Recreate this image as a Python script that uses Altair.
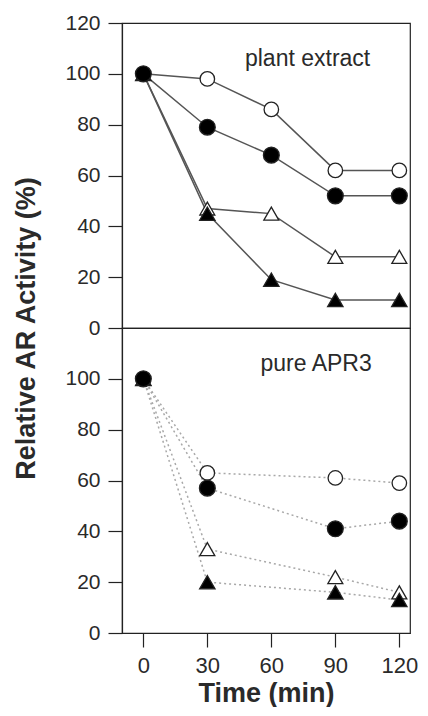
import altair as alt
import pandas as pd

# ---- data -------------------------------------------------------------
times_plant = [0, 30, 60, 90, 120]
plant_open_circle = [100, 98, 86, 62, 62]
plant_filled_circle = [100, 79, 68, 52, 52]
plant_open_triangle = [100, 47, 45, 28, 28]
plant_filled_triangle = [100, 45, 19, 11, 11]

times_apr = [0, 30, 90, 120]
apr_open_circle = [100, 63, 61, 59]
apr_filled_circle = [100, 57, 41, 44]
apr_open_triangle = [100, 33, 22, 16]
apr_filled_triangle = [100, 20, 16, 13]

series_order = ["open circle", "open triangle", "filled triangle", "filled circle"]
x_ticks = [0, 30, 60, 90, 120]
y_ticks_top = [0, 20, 40, 60, 80, 100, 120]
y_ticks_bottom = [0, 20, 40, 60, 80, 100]

panel_labels = ["plant extract", "pure APR3"]
label_x = [77, 81]
label_y = [106, 106]


def make_df(times, series):
    rows = []
    for name, vals in series:
        for t, v in zip(times, vals):
            rows.append({"time": t, "value": v, "series": name})
    return pd.DataFrame(rows)


df_plant = make_df(times_plant, [
    ("open circle", plant_open_circle),
    ("open triangle", plant_open_triangle),
    ("filled triangle", plant_filled_triangle),
    ("filled circle", plant_filled_circle),
])
df_apr = make_df(times_apr, [
    ("open circle", apr_open_circle),
    ("open triangle", apr_open_triangle),
    ("filled triangle", apr_filled_triangle),
    ("filled circle", apr_filled_circle),
])

FONT = "Liberation Sans"
TXT = "#2a2a2a"
W, H = 288, 305

xscale = alt.Scale(domain=[-10, 125], nice=False, zero=False)
yscale = alt.Scale(domain=[0, 120], nice=False)

shape_enc = alt.Shape("series:N", scale=alt.Scale(domain=series_order,
                      range=["circle", "triangle-up", "triangle-up", "circle"]), legend=None)
fill_enc = alt.Fill("series:N", scale=alt.Scale(domain=series_order,
                    range=["white", "white", "black", "black"]), legend=None)
size_enc = alt.Size("series:N", scale=alt.Scale(domain=series_order,
                    range=[210, 250, 250, 210]), legend=None)


def panel(df, idx, yaxis, xaxis, line_props):
    base = alt.Chart(df)
    lines = base.mark_line(**line_props).encode(
        x=alt.X("time:Q", scale=xscale, axis=xaxis),
        y=alt.Y("value:Q", scale=yscale, axis=yaxis),
        detail="series:N",
    )
    pts = base.mark_point(filled=True, opacity=1, stroke="#222", strokeWidth=1.3).encode(
        x="time:Q", y="value:Q", shape=shape_enc, fill=fill_enc, size=size_enc,
    )
    lab = alt.Chart(pd.DataFrame({"t": [panel_labels[idx]], "x": [label_x[idx]], "y": [label_y[idx]]})).mark_text(
        font=FONT, fontSize=23, color=TXT, align="center", baseline="middle"
    ).encode(x="x:Q", y="y:Q", text="t:N")
    return alt.layer(lines, pts, lab).properties(width=W, height=H)


yaxis_top = alt.Axis(values=y_ticks_top, grid=False, tickSize=14, labelPadding=8,
                     labelFontSize=21, title="Relative AR Activity (%)",
                     titleFontSize=27, titleFontWeight="bold", titleAngle=270,
                     titleX=-96, titleY=305, titleBaseline="middle", titleAlign="center")
yaxis_bottom = alt.Axis(values=y_ticks_bottom, grid=False, tickSize=14, labelPadding=8,
                        labelFontSize=21, title=None)
xaxis_bottom = alt.Axis(values=x_ticks, grid=False, tickSize=14, labelPadding=8,
                        labelFontSize=22, title="Time (min)", titleFontSize=27,
                        titleFontWeight="bold", titlePadding=4, labelFlush=False)

top = panel(df_plant, 0, yaxis_top, None, dict(color="#555", strokeWidth=1.5))
bottom = panel(df_apr, 1, yaxis_bottom, xaxis_bottom,
               dict(color="#a8a8a8", strokeWidth=1.5, strokeDash=[2, 3]))

chart = alt.vconcat(top, bottom, spacing=0, bounds="flush").properties(
    padding={"left": 3, "top": 3, "right": 0, "bottom": 0}
).configure_view(stroke="#222", strokeWidth=1.2).configure_axis(
    labelFont=FONT, titleFont=FONT, labelColor=TXT, titleColor=TXT,
    domainColor="#222", tickColor="#222", tickWidth=1.2, domainWidth=1.2
).configure_concat(spacing=0)

chart.save("out.html", embed_options={"renderer": "svg", "actions": False})
